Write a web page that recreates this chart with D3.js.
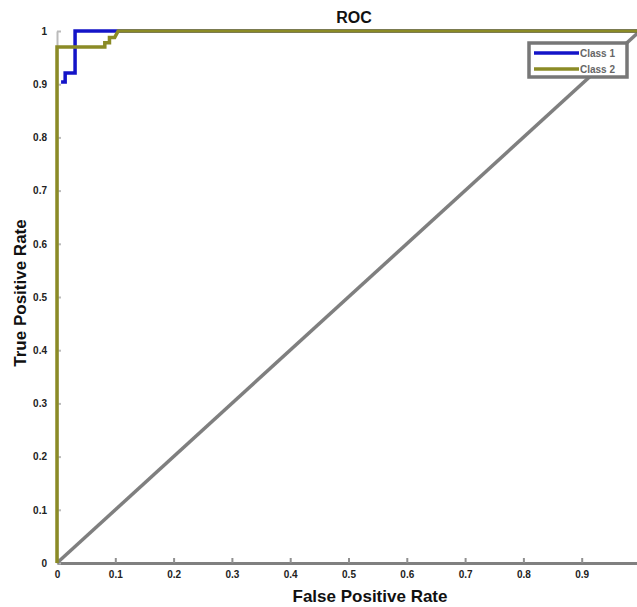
<!DOCTYPE html>
<html>
<head>
<meta charset="utf-8">
<script src="https://cdn.jsdelivr.net/npm/d3@7"></script>
<style>
  body { margin: 0; background: #fff; }
  svg { display: block; }
  text { font-family: "Liberation Sans", Arial, sans-serif; }
</style>
</head>
<body>
<div id="chart"></div>
<script>
// ROC curves, two classes plus chance diagonal
var ticks = [0, 0.1, 0.2, 0.3, 0.4, 0.5, 0.6, 0.7, 0.8, 0.9, 1];
var xTicks = [0, 0.1, 0.2, 0.3, 0.4, 0.5, 0.6, 0.7, 0.8, 0.9];

var class1Fpr = [0.007, 0.014, 0.014, 0.031, 0.031, 0.105, 1];
var class1Tpr = [0.904, 0.904, 0.921, 0.921, 1, 1, 1];

var class2Fpr = [0, 0, 0.082, 0.082, 0.090, 0.090, 0.099, 0.105, 1];
var class2Tpr = [0, 0.970, 0.970, 0.978, 0.978, 0.988, 0.988, 1, 1];

var chanceFpr = [0, 1];
var chanceTpr = [0, 1];

var seriesNames = ["Class 1", "Class 2"];
var seriesColors = ["#1414c8", "#8b8b26"];

var svgWidth = 637, svgHeight = 607;

var svg = d3.select("#chart").append("svg")
  .attr("width", svgWidth)
  .attr("height", svgHeight);

var x = d3.scaleLinear().domain([0, 1]).range([57, 640]);
var y = d3.scaleLinear().domain([0, 1]).range([563, 31]);

function pts(xs, ys) { return xs.map(function(d, i) { return [d, ys[i]]; }); }
var line = d3.line().x(function(d) { return x(d[0]); }).y(function(d) { return y(d[1]); });

// axes
var xAxis = svg.append("g")
  .attr("transform", "translate(0," + y(0) + ")")
  .call(d3.axisBottom(x).tickValues(xTicks).tickSizeInner(-5).tickSizeOuter(0).tickPadding(8)
    .tickFormat(function(d) { return d === 0 ? "0" : d3.format(".1f")(d); }));
xAxis.select(".domain").attr("stroke", "#808080").attr("stroke-width", 3);
xAxis.selectAll(".tick line").attr("stroke", "#909090").attr("stroke-width", 2);
xAxis.selectAll("text").attr("font-size", 10).attr("font-weight", "bold").attr("fill", "#222");

var yAxis = svg.append("g")
  .attr("transform", "translate(" + x(0) + ",0)")
  .call(d3.axisLeft(y).tickValues(ticks).tickSizeInner(-4).tickSizeOuter(0).tickPadding(10)
    .tickFormat(function(d) { return d === 0 || d === 1 ? d3.format("d")(d) : d3.format(".1f")(d); }));
yAxis.select(".domain").attr("stroke", "#bbbbbb").attr("stroke-width", 2);
yAxis.selectAll(".tick line").attr("stroke", "#bbbbbb").attr("stroke-width", 2);
yAxis.selectAll("text").attr("font-size", 10).attr("font-weight", "bold").attr("fill", "#222");

// chance line
svg.append("path")
  .attr("d", line(pts(chanceFpr, chanceTpr)))
  .attr("fill", "none").attr("stroke", "#7f7f7f").attr("stroke-width", 3.5);

// curves
svg.append("path")
  .attr("d", line(pts(class1Fpr, class1Tpr)))
  .attr("fill", "none").attr("stroke", seriesColors[0]).attr("stroke-width", 3.5);
svg.append("path")
  .attr("d", line(pts(class2Fpr, class2Tpr)))
  .attr("fill", "none").attr("stroke", seriesColors[1]).attr("stroke-width", 3.5);

// titles
svg.append("text").attr("x", 354).attr("y", 23).attr("text-anchor", "middle")
  .attr("font-size", 16).attr("font-weight", "bold").attr("fill", "#111").text("ROC");
svg.append("text").attr("x", 370).attr("y", 602).attr("text-anchor", "middle")
  .attr("font-size", 17).attr("font-weight", "bold").attr("fill", "#111").text("False Positive Rate");
svg.append("text").attr("transform", "translate(26,293) rotate(-90)").attr("text-anchor", "middle")
  .attr("font-size", 17).attr("font-weight", "bold").attr("fill", "#111").text("True Positive Rate");

// legend
var legend = svg.append("g").attr("transform", "translate(529,43)");
legend.append("rect").attr("width", 98).attr("height", 34)
  .attr("fill", "#fff").attr("stroke", "#777").attr("stroke-width", 3.5);
seriesNames.forEach(function(name, i) {
  var ly = 10 + i * 16;
  legend.append("line").attr("x1", 5).attr("x2", 50).attr("y1", ly).attr("y2", ly)
    .attr("stroke", seriesColors[i]).attr("stroke-width", 3.5);
  legend.append("text").attr("x", 51).attr("y", ly + 3.5)
    .attr("font-size", 10).attr("font-weight", "bold").attr("fill", "#666").text(name);
});
</script>
</body>
</html>
